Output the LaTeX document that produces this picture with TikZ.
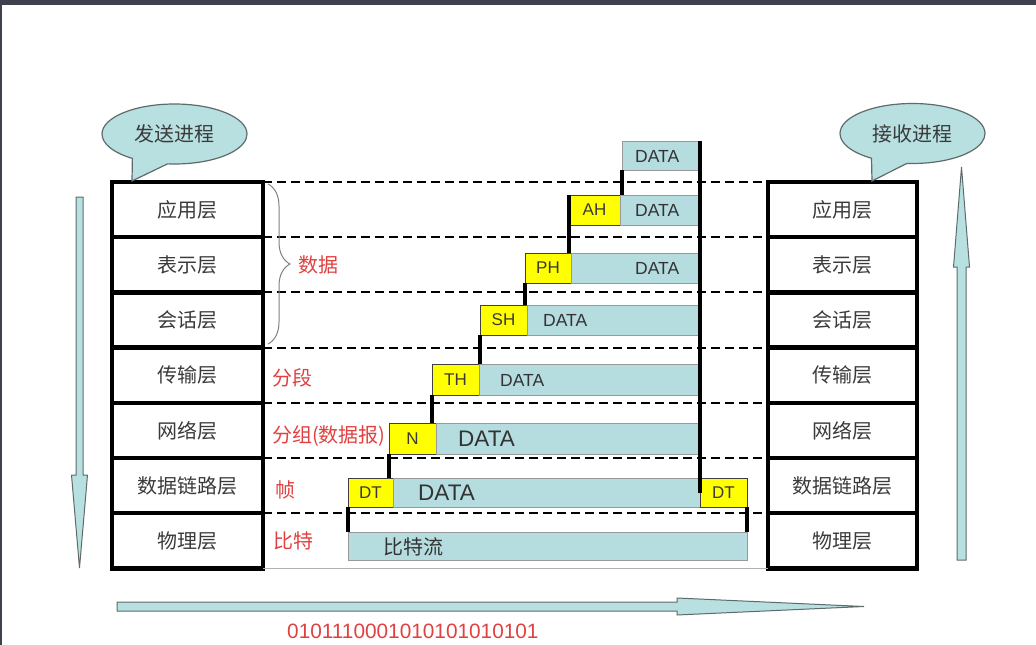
\documentclass[tikz,border=0pt]{standalone}
\usepackage{fontspec}
\setmainfont{Liberation Sans}
\newfontfamily\cjk{Noto Sans CJK SC}
\usetikzlibrary{positioning,shapes.callouts,decorations.pathreplacing}

\definecolor{pktblue}{HTML}{B5DCDF}
\definecolor{hdryellow}{HTML}{FFFF00}
\definecolor{lblred}{HTML}{E0403F}
\definecolor{txtgray}{HTML}{3A3A3A}
\definecolor{framegray}{HTML}{3E424D}
\definecolor{arrowfill}{HTML}{B9E0E0}
\definecolor{edgegray}{HTML}{5E6B6B}

\begin{document}
\begin{tikzpicture}[
  x=1pt, y=-1pt,
  layer/.style={draw, line width=4.5pt, minimum width=151pt, minimum height=55.2pt,
    inner sep=0pt, outer sep=0pt, text=txtgray, font=\cjk\fontsize{20}{24}\selectfont},
  blk/.style={draw=gray!80, fill=pktblue, line width=1pt, minimum height=30pt,
    inner sep=0pt, outer sep=0pt, anchor=north west},
  hdr/.style={draw=black!75, fill=hdryellow, line width=1pt, minimum height=30pt,
    inner sep=0pt, outer sep=0pt, anchor=north west, text=txtgray,
    font=\fontsize{17}{20}\selectfont},
  dtxt/.style={anchor=west, inner sep=0pt, text=black!80, font=\fontsize{17.5}{20}\selectfont},
  bigtxt/.style={dtxt, font=\fontsize{22.5}{26}\selectfont},
  lbl/.style={anchor=west, inner sep=0pt, text=lblred, font=\cjk\fontsize{20}{24}\selectfont},
  bubble/.style={ellipse callout, draw=edgegray, fill=arrowfill, line width=1.2pt,
    minimum width=145pt, minimum height=60pt, callout pointer arc=30,
    text=txtgray, font=\cjk\fontsize{20}{24}\selectfont},
  bar/.style={line width=4pt},
  arr/.style={draw=edgegray, fill=arrowfill, line width=1pt},
  brc/.style={draw=gray, line width=1pt, decorate, decoration={brace, amplitude=22pt}}
]
  \useasboundingbox (0,0) rectangle (1036,645);
  \fill[framegray] (0,0) rectangle (1036,5);
  \fill[framegray] (0,0) rectangle (2,645);

  % sender stack
  \node[layer, anchor=north west] (s1) at (112,182) {应用层};
  \node[layer, below=0pt of s1] (s2) {表示层};
  \node[layer, below=0pt of s2] (s3) {会话层};
  \node[layer, below=0pt of s3] (s4) {传输层};
  \node[layer, below=0pt of s4] (s5) {网络层};
  \node[layer, below=0pt of s5] (s6) {数据链路层};
  \node[layer, below=0pt of s6] (s7) {物理层};

  % receiver stack
  \node[layer, anchor=north west, minimum width=149pt] (r1) at (768,182) {应用层};
  \node[layer, minimum width=149pt, below=0pt of r1] (r2) {表示层};
  \node[layer, minimum width=149pt, below=0pt of r2] (r3) {会话层};
  \node[layer, minimum width=149pt, below=0pt of r3] (r4) {传输层};
  \node[layer, minimum width=149pt, below=0pt of r4] (r5) {网络层};
  \node[layer, minimum width=149pt, below=0pt of r5] (r6) {数据链路层};
  \node[layer, minimum width=149pt, below=0pt of r6] (r7) {物理层};

  \foreach \i in {1,...,7}
    \draw[dashed, dash pattern=on 9pt off 5pt, line width=2pt] (s\i.north east) -- (r\i.north west);
  \draw[gray!60, line width=1.5pt] (s7.south east) -- (r7.south west);

  % bubbles
  \node[bubble, callout absolute pointer={(132,181)}] (snd) at (174.5,134) {发送进程};
  \node[bubble, callout absolute pointer={(872,181)}] (rcv) at (912.5,133.5) {接收进程};

  % encapsulation
  \node[blk, minimum width=78pt, minimum height=29pt] (d7) at (622,141) {};
  \node[hdr, minimum width=51pt] (ah) at (569,195) {AH};
  \node[blk, minimum width=79pt, right=0pt of ah] (d6) {};
  \node[hdr, minimum width=46pt] (ph) at (525,253) {PH};
  \node[blk, minimum width=128pt, right=0pt of ph] (d5) {};
  \node[hdr, minimum width=47pt] (sh) at (480,305) {SH};
  \node[blk, minimum width=172pt, right=0pt of sh] (d4) {};
  \node[hdr, minimum width=47pt, minimum height=31pt] (th) at (432,364) {TH};
  \node[blk, minimum width=220pt, minimum height=31pt, right=0pt of th] (d3) {};
  \node[hdr, minimum width=47pt, minimum height=31pt] (nh) at (389,423) {N};
  \node[blk, minimum width=263pt, minimum height=31pt, right=0pt of nh] (d2) {};
  \node[hdr, minimum width=45pt, minimum height=29pt] (dt) at (348,478) {DT};
  \node[blk, minimum width=307pt, minimum height=29pt, right=0pt of dt] (d1) {};
  \node[hdr, minimum width=47pt, minimum height=29pt, right=0pt of d1] (dtr) {DT};
  \node[blk, minimum width=399pt, minimum height=28pt] (bits) at (348,532) {};

  \node[dtxt] (t7) at (635,156) {DATA};
  \node[dtxt] (t6) at (635,210) {DATA};
  \node[dtxt] (t5) at (635,268) {DATA};
  \node[dtxt] (t4) at (543,320) {DATA};
  \node[dtxt] (t3) at (500,380) {DATA};
  \node[bigtxt] (t2) at (458,439) {DATA};
  \node[bigtxt] (t1) at (418,493) {DATA};
  \node[dtxt, font=\cjk\fontsize{20}{24}\selectfont] (tb) at (383,547) {比特流};

  % header links
  \draw[bar] (d7.south west) -- (d7.south west |- d6.north);
  \draw[bar] (ah.north west) -- (ah.north west |- ph.north);
  \draw[bar] (ph.south west) -- (ph.south west |- sh.north);
  \draw[bar] (sh.south west) -- (sh.south west |- th.north);
  \draw[bar] (th.south west) -- (th.south west |- nh.north);
  \draw[bar] (nh.south west) -- (nh.south west |- dt.north);
  \draw[bar] (dt.south west) -- (dt.south west |- bits.north);
  \draw[bar] (dtr.south east) -- (dtr.south east |- bits.north);
  \draw[bar] (d7.north east) -- (d7.north east |- dtr.center);

  % unit names
  \draw[brc] (268,184) -- (268,344);
  \node[lbl] (l1) at (298,265) {数据};
  \node[lbl] (l2) at (272,378) {分段};
  \node[lbl] (l3) at (272,436) {分组(数据报)};
  \node[lbl] (l4) at (275,490) {帧};
  \node[lbl] (l5) at (273,541) {比特};

  % direction arrows
  \filldraw[arr] (76,197) -- (83,197) -- (83,475) -- (87.5,475) -- (79.5,568)
    -- (71.5,475) -- (76,475) -- cycle;
  \filldraw[arr] (957,560) -- (966,560) -- (966,267) -- (969.5,267) -- (961.5,167)
    -- (953.5,267) -- (957,267) -- cycle;
  \filldraw[arr] (117,602) -- (677,602) -- (677,598) -- (864,606.5) -- (677,615)
    -- (677,611) -- (117,611) -- cycle;
  \node[anchor=west, inner sep=0pt, text=lblred, font=\fontsize{20.8}{24}\selectfont] (bin)
    at (287,631) {0101110001010101010101};
\end{tikzpicture}
\end{document}
